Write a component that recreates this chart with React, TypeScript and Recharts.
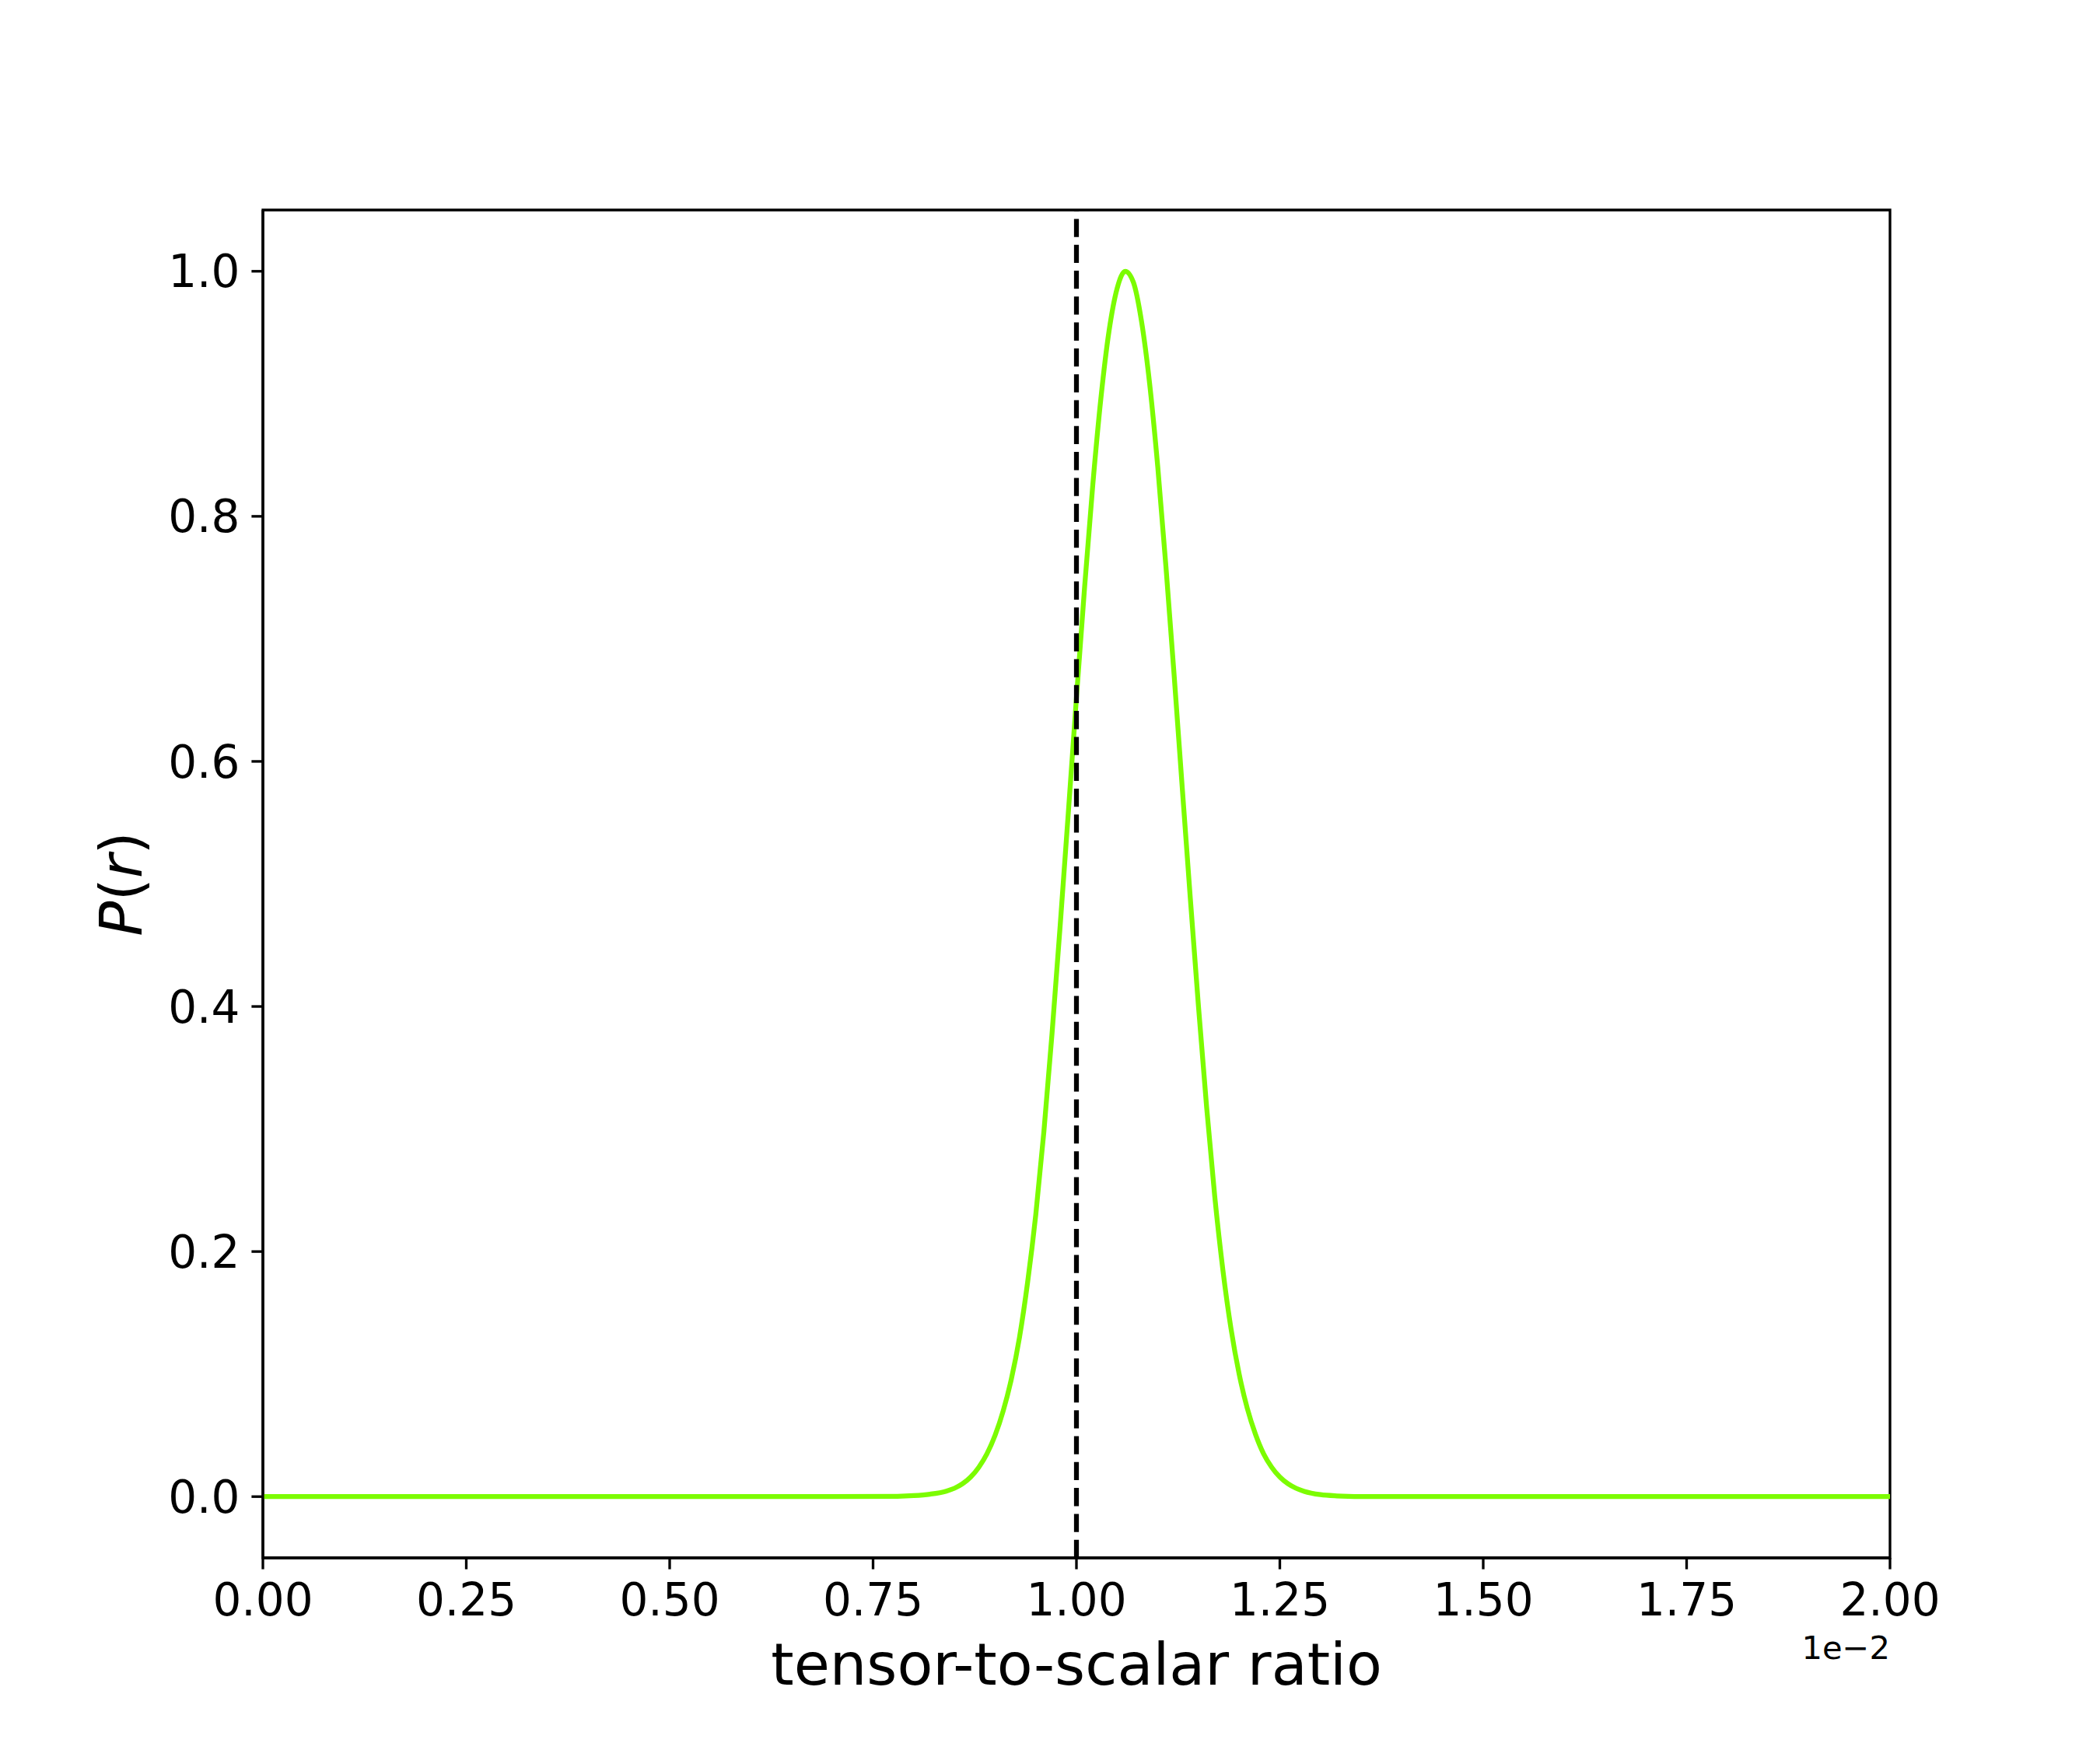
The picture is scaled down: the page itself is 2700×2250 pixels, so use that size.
import React from 'react';
import { LineChart, Line, XAxis, YAxis, ReferenceLine, ReferenceArea, Label } from 'recharts';

// tensor-to-scalar ratio (in units of 1e-2)
const rValues = [
  0, 0.7, 0.78, 0.8, 0.82, 0.84, 0.85, 0.86, 0.87, 0.88, 0.89, 0.9, 0.91, 0.92, 0.93, 0.94,
  0.95, 0.96, 0.97, 0.98, 0.99, 1.0, 1.01, 1.02, 1.03, 1.04, 1.05, 1.06, 1.07, 1.08, 1.09,
  1.1, 1.11, 1.12, 1.13, 1.14, 1.15, 1.16, 1.17, 1.18, 1.19, 1.2, 1.21, 1.22, 1.23, 1.24,
  1.25, 1.26, 1.27, 1.28, 1.3, 1.32, 1.35, 1.4, 2.0,
];
// P(r)
const pValues = [
  0, 0, 0.0003, 0.0008, 0.002, 0.0045, 0.0068, 0.0105, 0.016, 0.024, 0.035, 0.05, 0.07, 0.096,
  0.13, 0.175, 0.23, 0.298, 0.378, 0.466, 0.558, 0.652, 0.742, 0.825, 0.896, 0.951, 0.986, 1.0,
  0.991, 0.959, 0.908, 0.84, 0.759, 0.671, 0.579, 0.488, 0.4, 0.318, 0.245, 0.185, 0.137, 0.1,
  0.072, 0.051, 0.035, 0.024, 0.016, 0.0105, 0.0068, 0.0043, 0.0016, 0.0006, 0.0001, 0, 0,
];
const xTicks = [0, 0.25, 0.5, 0.75, 1.0, 1.25, 1.5, 1.75, 2.0];
const yTicks = [0, 0.2, 0.4, 0.6, 0.8, 1.0];
const xDomain = [0, 2];
const yDomain = [-0.05, 1.05];
const markerR = 1.0;

const data = rValues.map((r, i) => ({ r, p: pValues[i] }));

const FONT = 'DejaVu Sans';
const SPINE = 3.33;

const XLabel = (props: any) => {
  const vb = props.viewBox || { x: 338, y: 2003, width: 2092, height: 200 };
  const cx = vb.x + vb.width / 2;
  return (
    <g>
      <text x={cx} y={vb.y + 163} textAnchor="middle" fontFamily={FONT} fontSize={75} fill="#000">
        tensor-to-scalar ratio
      </text>
      <text x={vb.x + vb.width} y={vb.y + 130} textAnchor="end" fontFamily={FONT} fontSize={41.7} fill="#000">
        1e−2
      </text>
    </g>
  );
};

const YLabel = (props: any) => {
  const vb = props.viewBox || { x: 138, y: 270, width: 200, height: 1733 };
  const cx = vb.x + vb.width - 156.3;
  const cy = vb.y + vb.height / 2;
  return (
    <text
      x={cx}
      y={cy}
      textAnchor="middle"
      fontFamily={FONT}
      fontSize={75}
      fill="#000"
      transform={`rotate(-90, ${cx}, ${cy})`}
    >
      <tspan fontStyle="italic">P</tspan>
      <tspan>(</tspan>
      <tspan fontStyle="italic">r</tspan>
      <tspan>)</tspan>
    </text>
  );
};

export default function App() {
  return (
    <div style={{ position: 'absolute', left: 0, top: 0, background: '#fff' }}>
      <LineChart
        width={2700}
        height={2250}
        data={data}
        margin={{ top: 270, right: 270, bottom: 47, left: 138 }}
      >
        <XAxis
          dataKey="r"
          type="number"
          domain={xDomain}
          ticks={xTicks}
          interval={0}
          tickFormatter={(v: number) => v.toFixed(2)}
          height={200}
          tickSize={14.6}
          tickMargin={18}
          axisLine={{ stroke: '#000', strokeWidth: SPINE }}
          tickLine={{ stroke: '#000', strokeWidth: SPINE }}
          tick={{ fill: '#000', fontSize: 58, fontFamily: FONT }}
        >
          <Label content={<XLabel />} />
        </XAxis>
        <YAxis
          type="number"
          domain={yDomain}
          ticks={yTicks}
          interval={0}
          tickFormatter={(v: number) => v.toFixed(1)}
          width={200}
          tickSize={14.6}
          tickMargin={15}
          axisLine={{ stroke: '#000', strokeWidth: SPINE }}
          tickLine={{ stroke: '#000', strokeWidth: SPINE }}
          tick={{ fill: '#000', fontSize: 58, fontFamily: FONT }}
        >
          <Label content={<YLabel />} />
        </YAxis>
        <Line
          type="monotone"
          dataKey="p"
          stroke="#7CFC00"
          strokeWidth={6.25}
          dot={false}
          activeDot={false}
          isAnimationActive={false}
        />
        <ReferenceLine
          segment={[
            { x: markerR, y: yDomain[0] },
            { x: markerR, y: yDomain[1] },
          ]}
          stroke="#000"
          strokeWidth={6.25}
          strokeDasharray="23.3 10"
        />
        <ReferenceArea
          x1={xDomain[0]}
          x2={xDomain[1]}
          y1={yDomain[0]}
          y2={yDomain[1]}
          fill="none"
          fillOpacity={0}
          stroke="#000"
          strokeWidth={SPINE}
          strokeOpacity={1}
        />
      </LineChart>
    </div>
  );
}
